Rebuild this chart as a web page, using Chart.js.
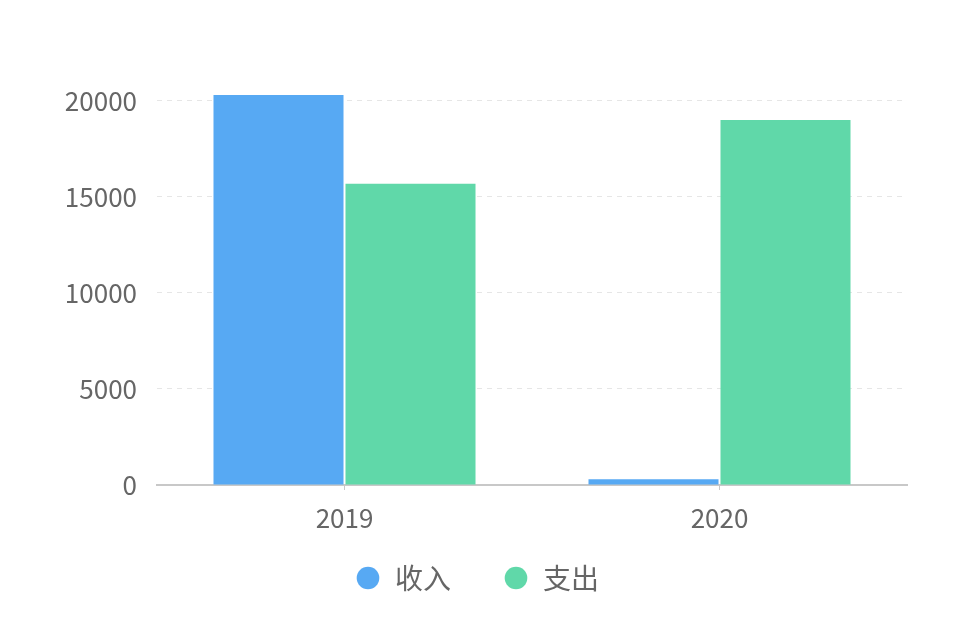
<!DOCTYPE html>
<html>
<head>
<meta charset="utf-8">
<script src="https://cdn.jsdelivr.net/npm/chart.js@4/dist/chart.umd.min.js"></script>
<style>
html,body{margin:0;padding:0;background:#fff;}
canvas{display:block;}
</style>
</head>
<body>
<canvas id="c" width="954" height="642"></canvas>
<script>
const categories = ['2019', '2020'];
const seriesNames = ['收入', '支出'];
const incomeValues = [20300, 300];
const expenseValues = [15680, 19000];
const yTickValues = [0, 5000, 10000, 15000, 20000];

const FONT = '"Noto Sans CJK SC", "Noto Sans", sans-serif';

new Chart(document.getElementById('c'), {
  type: 'bar',
  data: {
    labels: categories,
    datasets: [
      { label: seriesNames[0], data: incomeValues, backgroundColor: '#57a9f3',
        categoryPercentage: 0.704, barPercentage: 0.985 },
      { label: seriesNames[1], data: expenseValues, backgroundColor: '#60d8a9',
        categoryPercentage: 0.704, barPercentage: 0.985 }
    ]
  },
  options: {
    responsive: false,
    animation: false,
    layout: { padding: { top: 93, right: 47, bottom: 40, left: 47 } },
    plugins: {
      tooltip: { enabled: false },
      legend: {
        position: 'bottom',
        title: { display: true, text: '', font: { size: 1, lineHeight: 1 }, padding: { top: -20, bottom: 0 } },
        labels: {
          usePointStyle: true,
          pointStyle: 'circle',
          boxWidth: 26,
          boxHeight: 16,
          padding: 52,
          color: '#666',
          font: { family: FONT, size: 28 }
        }
      }
    },
    scales: {
      x: {
        grid: { display: true, drawOnChartArea: false, drawTicks: true, tickLength: 5, offset: false, color: '#c8c8c8' },
        border: { display: true, color: '#c8c8c8', width: 2 },
        ticks: { color: '#666', padding: 13, font: { family: FONT, size: 26 } },
        afterFit: s => { s.height = 46; }
      },
      y: {
        min: 0,
        max: 20400,
        afterBuildTicks: s => { s.ticks = yTickValues.map(v => ({ value: v })); },
        grid: {
          drawTicks: false,
          color: ctx => ctx.tick && ctx.tick.value === 0 ? 'rgba(0,0,0,0)' : '#e6e6e6',
          lineWidth: 1
        },
        border: { display: false, dash: [5, 5] },
        ticks: { color: '#666', padding: 20, font: { family: FONT, size: 26 }, callback: v => String(v) },
        afterFit: s => { s.width = 110; }
      }
    }
  }
});
</script>
</body>
</html>
